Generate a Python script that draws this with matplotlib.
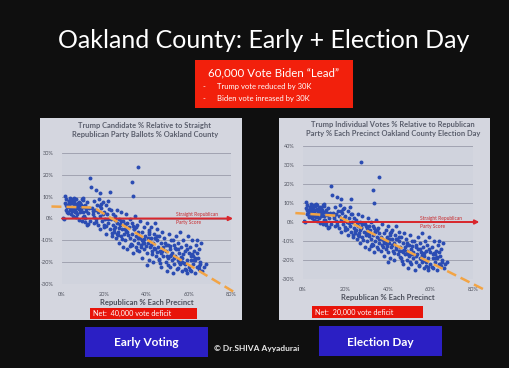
import matplotlib.pyplot as plt
from matplotlib.patches import Rectangle

# Precinct points (Republican %, Trump % relative to party)
# low-Republican cluster
low_x = [0.3, 0.8, 1.2, 1.7, 2.1, 2.4, 2.9, 3.3, 3.6, 4.1, 4.4, 4.9, 5.2, 5.7, 6.1,
         6.4, 6.8, 7.3, 7.7, 8.2, 8.6, 9.1, 9.4, 9.8, 10.3, 10.7, 11.2, 11.6, 12.1, 12.6,
         1.9, 2.6, 3.1, 3.8, 4.3, 4.7, 5.4, 5.9, 6.3, 6.9, 7.4, 7.9, 8.4, 8.8, 9.3,
         9.9, 10.5, 11.0, 11.8, 12.4,
         2.2, 3.4, 4.6, 5.6, 6.6, 7.6, 8.7, 9.6, 10.8, 13.1,
         4, 6.5, 7.5, 3.5, 5, 8, 10, 11.5]
low_y = [0.4, -0.2, 7.3, 4.1, 8.8, 5.6, 2.7, 6.9, 9.4, 3.8, 7.1, 5.2, 1.3, 8.2, 4.4,
         6.6, 9.1, 2.2, 5.8, 7.7, 3.1, 6.2, 8.9, 0.8, 5.1, -1.6, 3.6, 7.4, -2.4, 4.8,
         6.1, 3.2, 8.1, 5.4, 1.9, 7.9, 4.6, 9.3, 2.8, 5.9, 7.2, -0.7, 6.7, 4.2, -1.2,
         8.4, 1.1, 6.3, -2.9, 2.3,
         5.1, 7.8, 3.3, 6.5, 0.6, 4.9, 7.3, 5.5, 0.2, -1.1,
         4, 3, 5, 6.5, 9, 4.5, 3, 5]

# descending band
band_x = [
    14, 14.5, 15, 15, 15.5, 16, 16.5, 17, 17, 17.5, 18, 18, 18.5, 19, 19.5, 20,
    20, 20.5, 21, 21, 21.5, 22, 22, 22.5, 23, 23, 23.5, 24, 24, 24.5,
    25, 25, 25.5, 26, 26, 26.5, 27, 27, 27.5, 28, 28, 28.5, 29, 29, 29.5, 30,
    30, 30.5, 31, 31, 31.5, 32, 32, 32.5, 33, 33, 33.5, 34, 34, 34.5, 35, 35,
    35.5, 36, 36,
    36.5, 37, 37, 37.5, 38, 38, 38.5, 39, 39, 39.5, 40, 40, 40.5, 41, 41, 41.5,
    42, 42, 42.5, 43, 43, 43.5, 44, 44, 44.5, 45, 45, 45.5, 46, 46, 46.5, 47,
    47, 47.5, 48, 48,
    48.5, 49, 49, 49.5, 50, 50, 50.5, 51, 51, 51.5, 52, 52, 52.5, 53, 53, 53.5,
    54, 54, 54.5, 55, 55, 55.5, 56, 56, 56.5, 57, 57, 57.5, 58, 58, 58.5, 59,
    59, 59.5, 60, 60,
    60.5, 61, 61, 61.5, 62, 62, 62.5, 63, 63, 63.5, 64, 64, 64.5, 65, 65, 65.5,
    66, 67, 68,
    26, 28, 31, 35, 38, 42, 45, 49, 53, 57, 61, 44, 47, 51, 55, 58, 36, 39, 41,
    30, 33,
    14.6, 16.2, 17.8, 19.3, 20.9, 22.4, 23.7, 25.3, 26.8, 28.3, 29.6, 31.2, 32.7,
    34.1, 35.4, 36.8, 38.2, 39.7, 41.3, 42.8, 44.2, 45.7, 47.3, 48.8, 50.2, 51.7,
    53.3, 54.8, 56.2, 57.7, 59.3, 60.8, 62.3, 63.8, 65.3, 66.4,
    15.3, 18.6, 21.7, 24.6, 27.4, 30.3, 33.6, 37.4, 40.6, 43.7, 46.6, 49.6, 52.4,
    55.6, 58.7, 61.6, 64.7,
    19.8, 26.3, 32.2, 38.9, 45.1, 51.2, 57.1, 63.1,
]
band_y = [
    5, 2, 8, -2, 4, 0, 6, -3, 3, 9, 1, -5, 5, -1, 7.5, 3,
    -4, 0, 6, -7, 2, -2, 8, -5, 4, 0, -8, 2, -3, -6,
    1, -4, -9, -2, 4, -6, 0, -11, -3, -8, 3, -5, -1, -13, -7, -3,
    -10, 2, -6, -14, -4, -9, 0, -12, -2, -7, -16, -5, -10, 1, -8, -13,
    -3, -11, -6,
    -15, -1, -9, -13, -6, -18, -11, -4, -14, -8, -16, -2, -11, -7, -19, -13,
    -9, -4, -15, -11, -20, -7, -14, -2, -17, -10, -5, -13, -19, -8, -15, -11,
    -22, -6, -17, -13,
    -9, -20, -15, -24, -12, -18, -7, -22, -14, -10, -19, -16, -25, -12, -21, -17,
    -8, -14, -23, -19, -11, -16, -21, -6, -13, -24, -18, -10, -15, -21, -12, -25,
    -19, -8, -16, -22,
    -13, -19, -24, -10, -17, -21, -15, -25, -19, -12, -22, -10, -18, -14, -23, -20,
    -11, -22, -21,
    -7, -1, -2, -4, -10, -12, -8, -12, -18, -20, -17, -9, -16, -17, -14, -23, -9,
    -11, -6,
    -5, -12,
    3.4, -1.7, 5.6, 2.1, -3.6, 4.3, -6.7, -0.9, -4.2, -9.6, -2.3, -7.4, -11.7,
    -4.9, -14.2, -7.8, -10.3, -12.6, -5.3, -16.4, -9.1, -18.6, -14.7, -11.2, -21.3, -16.9,
    -13.4, -22.8, -17.6, -20.3, -14.1, -23.7, -18.9, -15.6, -20.8, -24.2,
    0.7, 6.6, -0.3, -4.7, -2.6, -5.8, -3.4, -12.1, -8.9, -13.3, -20.6, -17.1, -9.8,
    -19.7, -23.6, -16.4, -21.9,
    -2.8, -7.6, -12.4, -9.4, -15.2, -12.8, -16.3, -18.3,
]

# outliers
out_x = [35.9, 33, 33.4, 13.2, 13.5, 15.9, 18, 22.7, 1.4, 40.2, 10]
out_y = [23.6, 16.9, 10.2, 18.7, 14.2, 12.9, 11.9, 12, 10.4, -21.3, 9.3]
# extra outlier that only shows on the Election Day chart
extra_x = [27.2]
extra_y = [31.4]

rep_pct = low_x + band_x + out_x
trump_rel = low_y + band_y + out_y

W, H = 510, 368
plt.rcParams['font.family'] = ['Lato', 'DejaVu Sans']

fig = plt.figure(figsize=(5.1, 3.68), dpi=100)
fig.patch.set_facecolor('#0f0f0f')


def fx(x):
    return x / W


def fy(y):
    return 1 - y / H


def box(x0, y0, x1, y1, color, z=-1):
    fig.patches.append(Rectangle((fx(x0), fy(y1)), (x1 - x0) / W, (y1 - y0) / H,
                                 transform=fig.transFigure, facecolor=color,
                                 edgecolor='none', zorder=z))


def label(x, y, s, size, color='white', weight='normal', ha='center'):
    fig.text(fx(x), fy(y), s, size=size, color=color, weight=weight,
             ha=ha, va='center')


# slide header
label(264, 41, 'Oakland County: Early + Election Day', 18)
box(195, 60, 353, 108, '#f2200c', z=1)
label(274, 73, '60,000 Vote Biden \u201cLead\u201d', 8.3)
label(203, 87, '-', 5.5, ha='left')
label(217, 87, 'Trump vote reduced by 30K', 5.5, ha='left')
label(203, 99, '-', 5.5, ha='left')
label(217, 99, 'Biden vote inreased by 30K', 5.5, ha='left')

# chart panels
box(40, 118, 242, 320, '#d4d6df')
box(279, 118, 490, 320, '#d4d6df')


def panel(rect, xs, ys, ylims, title, title_xy, arrow_end, trend, text_x, net_box, net_text):
    ax = fig.add_axes([fx(rect[0]), fy(rect[3]), (rect[2] - rect[0]) / W,
                       (rect[3] - rect[1]) / H])
    ax.set_facecolor('#d0d3dd')
    ax.set_xlim(0, 80)
    ax.set_ylim(*ylims)
    yt = list(range(ylims[0], ylims[1] + 1, 10))
    ax.set_yticks(yt)
    ax.set_yticklabels(['%d%%' % v for v in yt])
    ax.set_xticks([0, 20, 40, 60, 80])
    ax.set_xticklabels(['0%', '20%', '40%', '60%', '80%'])
    ax.tick_params(length=0, labelsize=4, labelcolor='#4d505c', pad=6)
    for s in ax.spines.values():
        s.set_visible(False)
    ax.yaxis.grid(True, color='#9a9caa', lw=0.6)
    ax.set_axisbelow(True)
    ax.set_xlabel('Republican % Each Precinct', size=5.5, weight='bold',
                  color='#4d505c', labelpad=1)
    ax.scatter(xs, ys, s=8, color='#2b4cb3', linewidths=0, zorder=3)
    ax.annotate('', xy=(arrow_end, 0), xytext=(0, 0),
                arrowprops=dict(arrowstyle='-|>', color='#d9262c', lw=1.4,
                                mutation_scale=6, shrinkA=0, shrinkB=0),
                zorder=4, annotation_clip=False)
    ax.plot(trend[0], trend[1], color='#f2a445', lw=1.8, ls=(0, (4, 2)),
            zorder=5, clip_on=False)
    ax.text(text_x, 0.6, 'Straight Republican', size=3.5, color='#c8282c',
            ha='center', va='bottom', zorder=6)
    ax.text(text_x - 4, -0.8, 'Party Score', size=3.5, color='#c8282c',
            ha='center', va='top', zorder=6)
    label(title_xy[0], title_xy[1], title, 5.4, color='#5a5e6c', weight='bold')
    box(*net_box, '#e8140a', z=1)
    label(net_box[0] + 3, (net_box[1] + net_box[3]) / 2, net_text, 5.2, ha='left')
    return ax


panel((62, 153, 231, 284), rep_pct, trump_rel, (-30, 30),
      'Trump Candidate % Relative to Straight\nRepublican Party Ballots % Oakland County',
      (145, 130), 81, ([-5, 15, 82], [5.5, 5, -34]), 64,
      (90, 308, 197, 319), 'Net:  40,000 vote deficit')
panel((303, 146, 473, 279), rep_pct + extra_x, trump_rel + extra_y, (-30, 40),
      'Trump Individual Votes % Relative to Republican\nParty % Each Precinct Oakland County Election Day',
      (393, 129), 83, ([-3.6, 16, 86], [4.7, 3.3, -36]), 65,
      (312, 306, 423, 318), 'Net:  20,000 vote deficit')

# footer buttons
box(85, 327, 208, 357, '#2b1fc4', z=1)
box(319, 326, 442, 356, '#2b1fc4', z=1)
label(146, 343, 'Early Voting', 8.5, weight='bold')
label(380, 342, 'Election Day', 8.5, weight='bold')
label(257, 348, '\u00a9 Dr.SHIVA Ayyadurai', 6, color='#e8e8e8', weight='bold')

fig.savefig('out.png', dpi=100, facecolor=fig.get_facecolor())
